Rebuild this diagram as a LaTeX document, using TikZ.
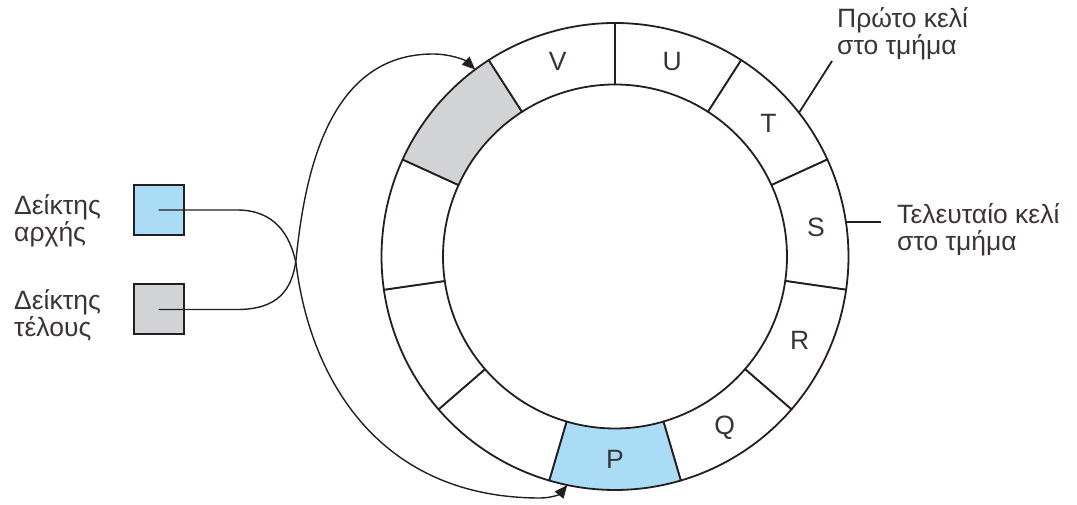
\documentclass[tikz,border=0pt]{standalone}
\usepackage{fontspec}
\setmainfont{Liberation Sans}
\usetikzlibrary{calc,arrows.meta}
\definecolor{blueC}{HTML}{AADDF5}
\definecolor{greyC}{HTML}{D1D3D4}
\definecolor{inkC}{HTML}{231F20}
\begin{document}
\begin{tikzpicture}[x=1pt,y=1pt,
  ring/.style={draw=inkC,line width=1.8pt,line join=round},
  ptrbox/.style={draw=inkC,line width=2pt,minimum size=50pt,inner sep=0pt},
  ptr/.style={draw=inkC,line width=1.4pt,-{Triangle[length=13pt,width=11pt]}},
  leader/.style={draw=inkC,line width=1.8pt},
  lbl/.style={font=\fontsize{26.5}{27.5}\selectfont,align=left,inner sep=0pt,text=inkC!90},
  seglbl/.style={font=\fontsize{26.5}{27.5}\selectfont,inner sep=0pt,text=inkC!90}]
\useasboundingbox (0,0) rectangle (1077,504);
\coordinate (C) at (615,247.5);
% ring segments
\foreach \k/\lab/\fc in {0/U/white,1/T/white,2/S/white,3/R/white,4/Q/white,5/P/blueC,6//white,7//white,8//white,9//greyC,10/V/white}{
  \pgfmathsetmacro{\a}{90-(\k+1)*360/11}
  \pgfmathsetmacro{\b}{90-\k*360/11}
  \pgfmathsetmacro{\m}{90-(\k+0.5)*360/11}
  \path[ring,fill=\fc] ($(C)+(\a:233.5)$) arc[start angle=\a,end angle=\b,radius=233.5]
     -- ($(C)+(\b:172)$) arc[start angle=\b,end angle=\a,radius=172] -- cycle;
  \node[seglbl] (seg\k) at ($(C)+(\m:203)$) {\lab};
}
% pointer boxes
\node[ptrbox,fill=blueC] (sb) at (158.5,294) {};
\node[ptrbox,fill=greyC] (eb) at (158.5,194.5) {};
\node[lbl,anchor=base west] (tsb) at (14,262) {Δείκτης\\αρχής};
\node[lbl,anchor=base west] (teb) at (14,167) {Δείκτης\\τέλους};
% targets
\coordinate (bt) at ($(C)+(258.2:233.5)$);
\coordinate (gt) at ($(C)+(126.8:233.5)$);
\draw[ptr] (sb.center) -- (237,294)
  .. controls (275,294) and (290,269) .. (296,241)
  .. controls (310,124) and (380,6) .. (540,6)
  .. controls (552,6) and (560,10) .. (bt);
\draw[ptr] (eb.center) -- (237,194.5)
  .. controls (278,194.5) and (292,214) .. (296,244)
  .. controls (305,334) and (330,450) .. (433,450)
  .. controls (450,450) and (465,444) .. (gt);
% right labels
\coordinate (tl) at ($(C)+(38:233.5)$);
\coordinate (sl) at ($(C)+(8.4:233.5)$);
\coordinate (tle) at (832,443);
\coordinate (sle) at ($(sl)+(35,0)$);
\draw[leader] (tl) -- (tle);
\draw[leader] (sl) -- (sle);
\node[lbl,anchor=base west] (tfirst) at (837,449) {Πρώτο κελί\\στο τμήμα};
\node[lbl,anchor=base west] (tlast) at (897,253) {Τελευταίο κελί\\στο τμήμα};
\end{tikzpicture}
\end{document}
